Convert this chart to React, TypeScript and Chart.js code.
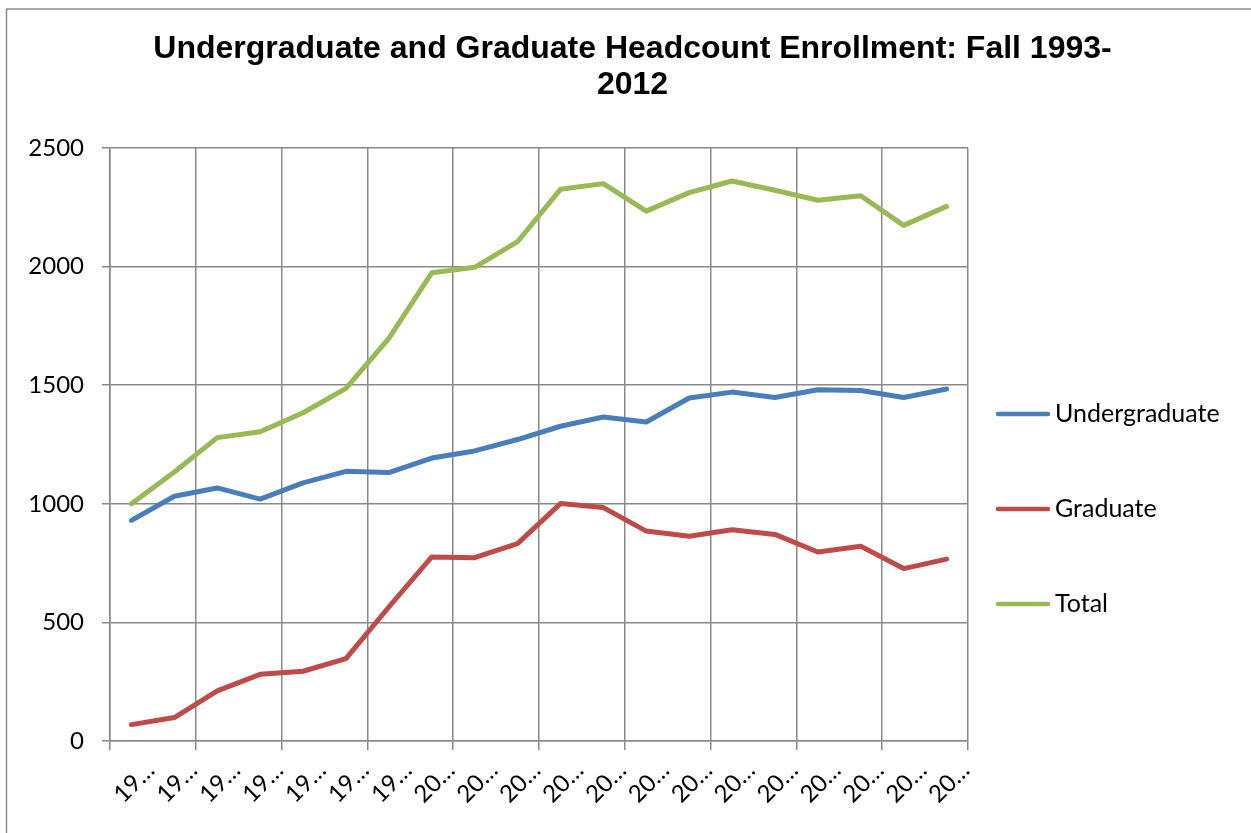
import { useEffect, useRef } from 'react';
import { Chart, registerables } from 'chart.js';

Chart.register(...registerables);

const years = ['1993', '1994', '1995', '1996', '1997', '1998', '1999', '2000', '2001', '2002', '2003', '2004', '2005', '2006', '2007', '2008', '2009', '2010', '2011', '2012'];
const tickLabels = ['19…', '19…', '19…', '19…', '19…', '19…', '19…', '20…', '20…', '20…', '20…', '20…', '20…', '20…', '20…', '20…', '20…', '20…', '20…', '20…'];
const undergraduate = [930, 1032, 1067, 1020, 1088, 1137, 1132, 1193, 1223, 1271, 1327, 1366, 1345, 1446, 1471, 1448, 1481, 1478, 1448, 1484];
const graduate = [69, 99, 211, 281, 294, 347, 565, 776, 773, 832, 1001, 984, 885, 863, 891, 871, 797, 821, 727, 767];
const total = [1000, 1134, 1279, 1304, 1384, 1487, 1698, 1974, 1997, 2105, 2326, 2350, 2234, 2312, 2361, 2322, 2280, 2299, 2174, 2254];
const seriesNames = ['Undergraduate', 'Graduate', 'Total'];
const seriesColors = ['#4A7EBB', '#BE4B48', '#98B954'];
const titleLines = ['Undergraduate and Graduate Headcount Enrollment: Fall 1993-', '2012'];
const yTicks = { min: 0, max: 2500, step: 500 };

const GRID = '#898989';
const LABEL_FONT = 'Lato';

const frame = {
  id: 'frame',
  beforeDraw(chart: any) {
    const { ctx } = chart;
    ctx.save();
    ctx.fillStyle = '#ffffff';
    ctx.fillRect(0, 0, chart.width, chart.height);
    ctx.strokeStyle = '#8a8a8a';
    ctx.lineWidth = 1.5;
    ctx.strokeRect(6.5, 9, 3000, 3000);
    ctx.restore();
  },
};

const sideLegend = {
  id: 'sideLegend',
  afterDraw(chart: any) {
    const { ctx, chartArea } = chart;
    ctx.save();
    seriesNames.forEach((name, i) => {
      const y = chartArea.top + 266 + i * 95;
      const x0 = chartArea.right + 30;
      ctx.strokeStyle = seriesColors[i];
      ctx.lineWidth = 4.5;
      ctx.lineCap = 'round';
      ctx.beginPath();
      ctx.moveTo(x0, y);
      ctx.lineTo(x0 + 50, y);
      ctx.stroke();
      ctx.fillStyle = '#000000';
      ctx.font = `25px ${LABEL_FONT}`;
      ctx.textBaseline = 'middle';
      ctx.textAlign = 'left';
      ctx.fillText(name, x0 + 57, y);
    });
    ctx.restore();
  },
};

export default function App() {
  const ref = useRef<HTMLCanvasElement>(null);

  useEffect(() => {
    if (!ref.current) return;
    const seriesData = [undergraduate, graduate, total];
    const chart = new Chart(ref.current, {
      type: 'line',
      data: {
        labels: years,
        datasets: seriesNames.map((name, i) => ({
          label: name,
          data: seriesData[i],
          borderColor: seriesColors[i],
          backgroundColor: seriesColors[i],
          borderWidth: 5,
          pointRadius: 0,
          pointHoverRadius: 0,
          tension: 0,
          borderJoinStyle: 'round' as const,
          borderCapStyle: 'round' as const,
          yAxisID: 'y',
          xAxisID: 'x',
        })),
      },
      options: {
        responsive: false,
        animation: false,
        events: [],
        layout: { padding: { left: 14, right: 0, top: 0, bottom: 0 } },
        plugins: {
          legend: { display: false },
          tooltip: { enabled: false },
          title: {
            display: true,
            text: titleLines,
            color: '#000000',
            font: { family: 'Liberation Sans', size: 32, weight: 'bold', lineHeight: 1.11 },
            padding: { top: 31.75, bottom: 45.25 },
          },
        },
        scales: {
          x: {
            type: 'category',
            offset: true,
            grid: {
              offset: true,
              color: (c: any) => (c.index === undefined || c.index % 2 === 0 ? GRID : 'rgba(0,0,0,0)'),
              tickColor: (c: any) => (c.index === undefined || c.index % 2 === 0 ? GRID : 'rgba(0,0,0,0)'),
              lineWidth: 1.5,
              tickLength: 9,
            },
            border: { display: true, color: GRID, width: 1.5 },
            ticks: {
              autoSkip: false,
              maxRotation: 45,
              minRotation: 45,
              color: '#000000',
              font: { family: LABEL_FONT, size: 24 },
              padding: 6,
              labelOffset: 19,
              callback: (_v: any, i: number) => tickLabels[i],
            },
            afterFit: (s: any) => {
              s.height = 92;
            },
          },
          y: {
            type: 'linear',
            min: yTicks.min,
            max: yTicks.max,
            grid: { color: GRID, lineWidth: 1.5, tickLength: 8 },
            border: { display: true, color: GRID, width: 1.5 },
            ticks: {
              stepSize: yTicks.step,
              color: '#000000',
              font: { family: LABEL_FONT, size: 24 },
              padding: 18,
              callback: (v: any) => String(v),
            },
            afterFit: (s: any) => {
              s.width = 96;
            },
          },
          yRight: {
            type: 'linear',
            axis: 'y',
            position: 'right',
            display: true,
            grid: { display: false, drawTicks: false },
            border: { display: false },
            ticks: { display: false },
            afterFit: (s: any) => {
              s.width = 283;
            },
          },
        },
      },
      plugins: [frame, sideLegend],
    } as any);
    return () => chart.destroy();
  }, []);

  return (
    <div style={{ position: 'absolute', left: 0, top: 0, width: 1251, height: 833, overflow: 'hidden', background: '#fff' }}>
      <canvas ref={ref} width={1251} height={833} style={{ display: 'block', width: 1251, height: 833 }} />
    </div>
  );
}
